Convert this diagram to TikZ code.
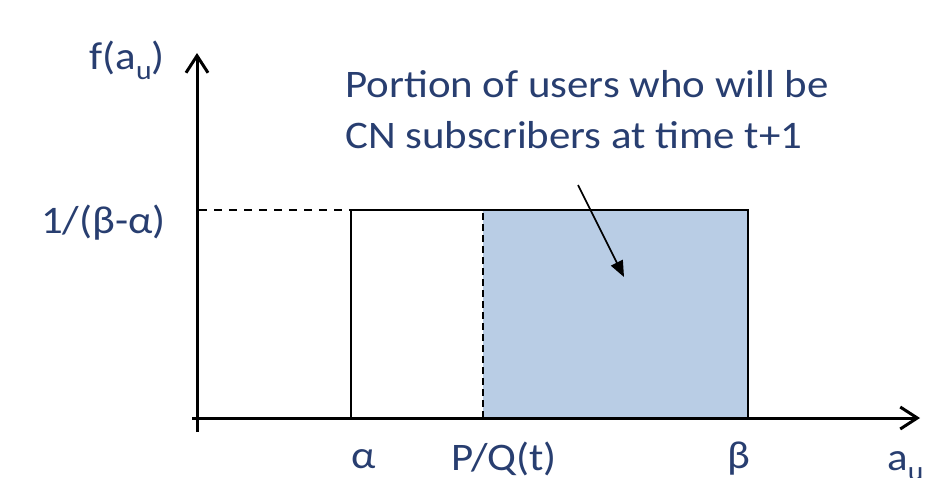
\documentclass[tikz,border=0pt]{standalone}
\usepackage{fontspec}
\setmainfont{Carlito}
\usetikzlibrary{arrows.meta}
\definecolor{txt}{RGB}{40,62,112}
\definecolor{areablue}{RGB}{185,205,229}
\newcommand{\wide}[1]{\scalebox{1.1}[1]{#1}}
\newcommand{\lowsub}[1]{\raisebox{-0.28em}{\fontsize{27}{30}\selectfont #1}}
\tikzset{
  lbl/.style={text=txt,font=\fontsize{39}{46}\selectfont,inner sep=0pt},
  axis/.style={line width=3pt,-{Straight Barb[length=17pt,width=22pt,line width=3pt]}},
  thin/.style={line width=1.4pt},
  hdash/.style={line width=1.6pt,dash pattern=on 8pt off 7pt},
  vdash/.style={line width=1.6pt,dash pattern=on 7pt off 4pt}
}
\begin{document}
\begin{tikzpicture}[x=1pt,y=-1pt]
\useasboundingbox (0,0) rectangle (928,477);
% coordinates
\coordinate (ybot) at (197,432);
\coordinate (ytop) at (197,53);
\coordinate (xleft) at (192,418);
\coordinate (xright) at (920,418);
\coordinate (A) at (351,418);
\coordinate (Atop) at (351,210);
\coordinate (P) at (483,418);
\coordinate (Ptop) at (483,210);
\coordinate (B) at (748,418);
\coordinate (Btop) at (748,210);
\coordinate (Ylev) at (199,210);
% shaded region
\fill[areablue] (P) rectangle (Btop);
% rectangle
\draw[thin] (A) -- (Atop) -- (Btop) -- (B);
\draw[vdash] (P) -- (Ptop);
\draw[hdash] (Ylev) -- (Atop);
% axes
\draw[axis] (ybot) -- (ytop);
\draw[axis] (xleft) -- (xright);
% annotation
\node[lbl,anchor=base west] (note) at (345,97) {\wide{Portion of users who will be}};
\node[lbl,anchor=base west] (note2) at (345,148) {\wide{CN subscribers at time t+1}};
\coordinate (ars) at (578,185);
\coordinate (are) at (624,277);
\draw[line width=1.6pt,-{Triangle[length=16pt,width=13pt]}] (ars) -- (are);
% labels
\node[lbl,anchor=base east] (fa) at (165,69) {\wide{f(a\lowsub{u})}};
\node[lbl,anchor=base east] (lev) at (166,233) {\wide{1/(β-α)}};
\node[lbl,anchor=base] (la) at (364,468) {\wide{α}};
\node[lbl,anchor=base] (lp) at (504,470) {\wide{P/Q(t)}};
\node[lbl,anchor=base] (lb) at (739,468) {\wide{β}};
\node[lbl,anchor=base west] (lx) at (887,470) {\wide{a\lowsub{u}}};
\end{tikzpicture}
\end{document}
